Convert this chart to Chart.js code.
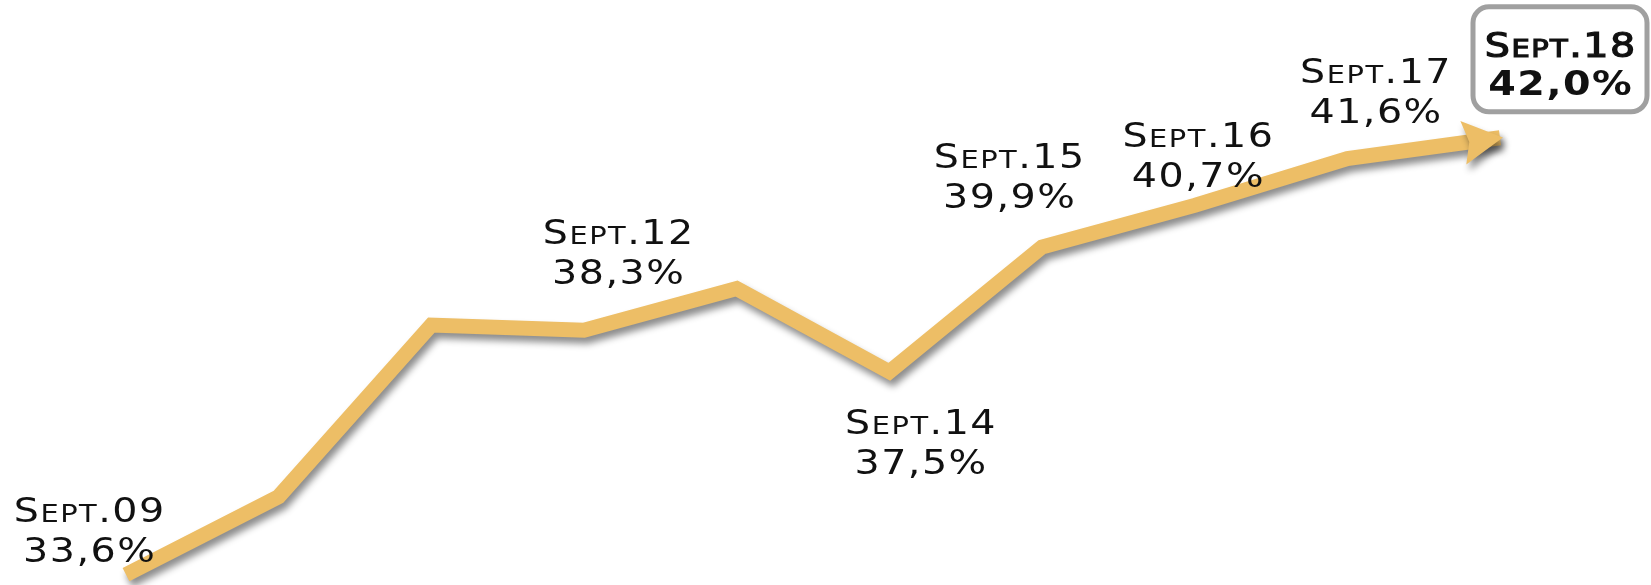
<!DOCTYPE html>
<html>
<head>
<meta charset="utf-8">
<script src="https://cdn.jsdelivr.net/npm/chart.js@4/dist/chart.umd.min.js"></script>
<style>
  html, body { margin: 0; padding: 0; background: #ffffff; }
  #wrap { width: 1651px; height: 585px; position: relative; }
</style>
</head>
<body>
<div id="wrap"><canvas id="c" width="1651" height="585"></canvas></div>
<script>
// ---- data ----
const categories = ['Sept.09', 'Sept.10', 'Sept.11', 'Sept.12', 'Sept.13', 'Sept.14', 'Sept.15', 'Sept.16', 'Sept.17', 'Sept.18'];
const values = [33.6, 35.1, 38.4, 38.3, 39.1, 37.5, 39.9, 40.7, 41.6, 42.0];
const labeledPoints = [0, 3, 5, 6, 7, 8];
const highlightPoint = 9;

// ---- label placement (style, not data) ----
const labelOffsets = {
  0: [-37, -53],
  3: [34, -86],
  5: [31, 62],
  6: [-33, -79],
  7: [3, -58],
  8: [28, -76]
};
const LINE_GAP = 40;
const FONT_FAMILY = '"DejaVu Sans", "Liberation Sans", sans-serif';
const FONT_SIZE = 33;
const SCALE_X = 1.2;
const SPACING = 1.5;

function fmtValue(v) { return v.toFixed(1).replace('.', ',') + '%'; }

function drawSmallCaps(ctx, text, cx, baseline, size, weight, strokeW) {
  const parts = [];
  for (let i = 0; i < text.length; i++) {
    const ch = text[i];
    const isLetter = /[a-z]/i.test(ch);
    const small = isLetter && i > 0;
    const s = small ? size * 0.73 : size;
    parts.push({ ch: ch.toUpperCase(), s });
  }
  let total = 0;
  parts.forEach((p, i) => {
    ctx.font = weight + ' ' + p.s + 'px ' + FONT_FAMILY;
    p.w = ctx.measureText(p.ch).width * SCALE_X;
    total += p.w + (i < parts.length - 1 ? SPACING : 0);
  });
  let x = cx - total / 2;
  ctx.fillStyle = '#111111';
  ctx.strokeStyle = '#111111';
  ctx.textBaseline = 'alphabetic';
  ctx.textAlign = 'left';
  parts.forEach(p => {
    ctx.font = weight + ' ' + p.s + 'px ' + FONT_FAMILY;
    ctx.save();
    ctx.translate(x, baseline);
    ctx.scale(SCALE_X, 1);
    ctx.fillText(p.ch, 0, 0);
    if (strokeW) { ctx.lineWidth = strokeW; ctx.strokeText(p.ch, 0, 0); }
    ctx.restore();
    x += p.w + SPACING;
  });
}

const shadowPlugin = {
  id: 'lineShadow',
  beforeDatasetsDraw(chart) {
    const ctx = chart.ctx;
    ctx.save();
    ctx.shadowColor = 'rgba(0,0,0,0.45)';
    ctx.shadowOffsetX = 3;
    ctx.shadowOffsetY = 6;
    ctx.shadowBlur = 7;
  },
  afterDatasetsDraw(chart) {
    const ctx = chart.ctx;
    const meta = chart.getDatasetMeta(0);
    const pts = meta.data;
    const a = pts[pts.length - 2], b = pts[pts.length - 1];
    const dx = b.x - a.x, dy = b.y - a.y;
    const len = Math.hypot(dx, dy);
    const ux = dx / len, uy = dy / len;
    const nx = -uy, ny = ux;
    const tipX = b.x + ux * 3, tipY = b.y + uy * 3;
    const L = 40, H = 22;
    ctx.beginPath();
    ctx.moveTo(tipX, tipY);
    ctx.lineTo(tipX - ux * L + nx * H, tipY - uy * L + ny * H);
    ctx.lineTo(tipX - ux * (L - 6), tipY - uy * (L - 6));
    ctx.lineTo(tipX - ux * L - nx * H, tipY - uy * L - ny * H);
    ctx.closePath();
    ctx.fillStyle = '#EDBE66';
    ctx.fill();
    ctx.restore();
  }
};

const labelPlugin = {
  id: 'pointLabels',
  afterDraw(chart) {
    const ctx = chart.ctx;
    const xs = chart.scales.x, ys = chart.scales.y;
    labeledPoints.forEach(i => {
      const px = xs.getPixelForValue(i);
      const py = ys.getPixelForValue(values[i]);
      const [ox, oy] = labelOffsets[i];
      drawSmallCaps(ctx, categories[i], px + ox, py + oy, FONT_SIZE, 'normal');
      drawSmallCaps(ctx, fmtValue(values[i]), px + ox, py + oy + LINE_GAP, FONT_SIZE, 'normal');
    });
    // highlighted final value in a rounded box
    const i = highlightPoint;
    const px = xs.getPixelForValue(i);
    const py = ys.getPixelForValue(values[i]);
    const bw = 174, bh = 105;
    const bx = px + 60 - bw / 2, by = py - 131;
    ctx.save();
    ctx.beginPath();
    ctx.roundRect(bx, by, bw, bh, 16);
    ctx.fillStyle = '#ffffff';
    ctx.fill();
    ctx.lineWidth = 5;
    ctx.strokeStyle = '#A0A0A0';
    ctx.stroke();
    ctx.restore();
    drawSmallCaps(ctx, categories[i], bx + bw / 2, by + 50, FONT_SIZE, 'normal', 1.2);
    drawSmallCaps(ctx, fmtValue(values[i]), bx + bw / 2, by + 88, FONT_SIZE, 'bold');
  }
};

new Chart(document.getElementById('c'), {
  type: 'line',
  data: {
    labels: categories,
    datasets: [{
      data: values,
      borderColor: '#EDBE66',
      borderWidth: 15,
      borderJoinStyle: 'miter',
      borderCapStyle: 'butt',
      pointRadius: 0,
      pointHoverRadius: 0,
      tension: 0,
      fill: false,
      clip: false
    }]
  },
  options: {
    responsive: false,
    animation: false,
    events: [],
    layout: { padding: { left: 126, right: 151, top: 65, bottom: 0 } },
    plugins: { legend: { display: false }, tooltip: { enabled: false }, title: { display: false } },
    scales: {
      x: { display: false, offset: false },
      y: { display: false, min: 33.4, max: 43.4 }
    }
  },
  plugins: [shadowPlugin, labelPlugin]
});
</script>
</body>
</html>
